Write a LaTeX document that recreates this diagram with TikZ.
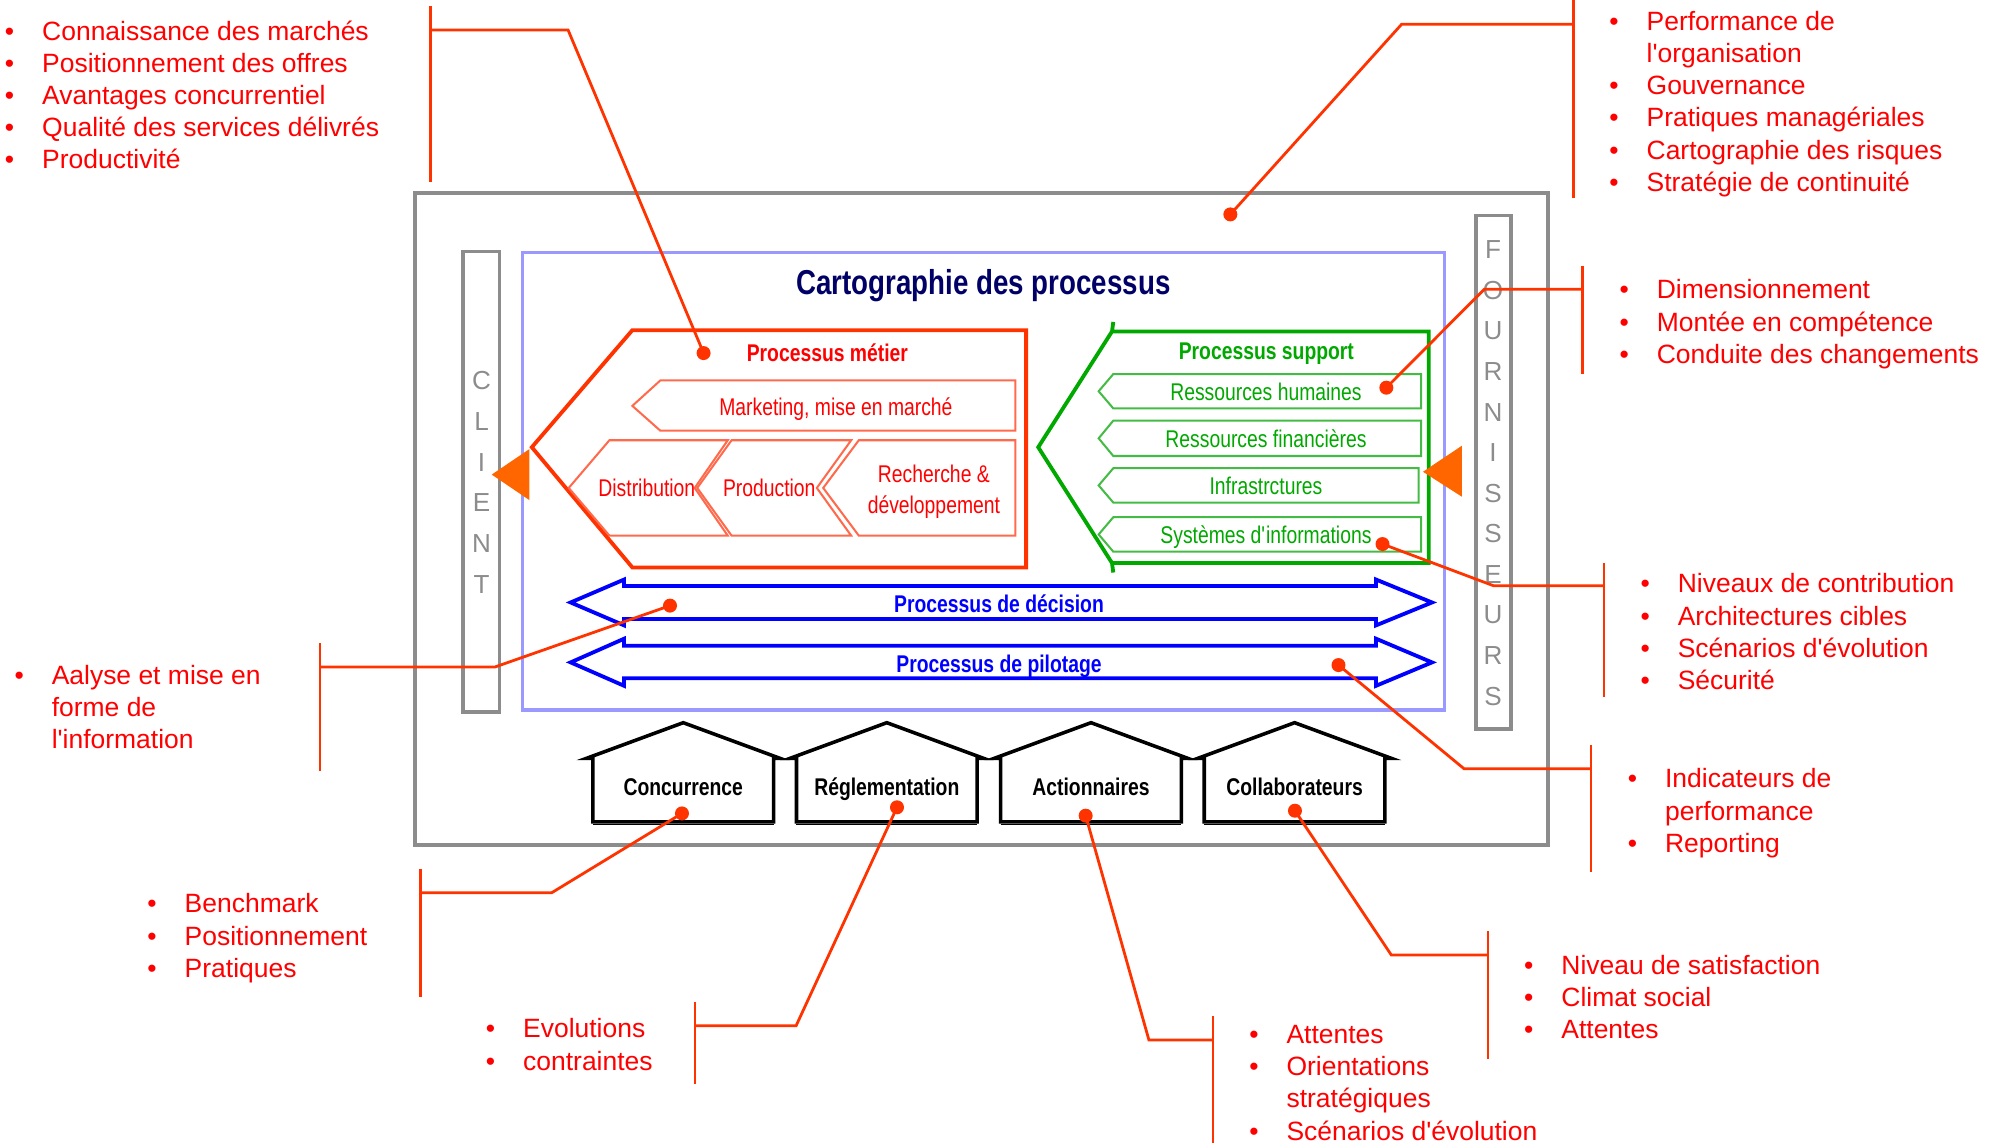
\documentclass[tikz,border=0pt]{standalone}
\usepackage{fontspec}
\setmainfont{Liberation Sans}
\newfontfamily\narrowfont[FakeStretch=0.8]{Liberation Sans}
\definecolor{annred}{HTML}{FF0000}
\definecolor{conred}{HTML}{FF3300}
\definecolor{metred}{HTML}{FF3300}
\definecolor{metin}{HTML}{FF6A4D}
\definecolor{grmain}{HTML}{00A800}
\definecolor{grin}{HTML}{44BB44}
\definecolor{bluem}{HTML}{0000FF}
\definecolor{navy}{HTML}{000066}
\definecolor{oratri}{HTML}{FF6600}
\definecolor{grayc}{HTML}{8C8C8C}
\definecolor{lblue}{HTML}{9999FF}
\newcommand\apos{\textquotesingle}
\begin{document}
\begin{tikzpicture}[x=1pt,y=-1pt,
  ann/.style={font=\fontsize{20.8}{25}\selectfont,text=annred,inner sep=0pt,anchor=base west},
  bl/.style={ann,execute at begin node={\llap{\textbullet\hspace{22pt}}}},
  conn/.style={draw=conred,line width=2.2pt},
  dotn/.style={circle,fill=conred,inner sep=0pt,minimum size=11pt},
  boxg/.style={draw=grayc,line width=3pt,inner sep=0pt,outer sep=0pt},
  letter/.style={font=\fontsize{20.5}{22}\selectfont,text=grayc,inner sep=0pt,text height=14.6pt,text depth=0pt},
  lbl/.style={font=\narrowfont\fontsize{19}{22}\selectfont,inner sep=0pt,text height=13.6pt,text depth=0pt},
  lblb/.style={lbl,font=\narrowfont\bfseries\fontsize{19}{22}\selectfont},
  metshape/.style={draw=metred,line width=3pt,line join=miter},
  metinner/.style={draw=metin,line width=1.6pt},
  grshape/.style={draw=grmain,line width=3pt},
  grinner/.style={draw=grin,line width=1.6pt},
  bluearrow/.style={draw=bluem,line width=3pt},
  house/.style={draw=black,line width=2.8pt,line join=miter},
  tri/.style={fill=oratri}
]
\useasboundingbox (0,0) rectangle (1568,898);

% ---------- frames ----------
\node[boxg,minimum width=890.6pt,minimum height=512.5pt] (frame) at (771.2,407.8) {};
\node[boxg,minimum width=28.5pt,minimum height=362pt] (client) at (378.3,378.6) {};
\node[boxg,minimum width=27.6pt,minimum height=403.7pt] (fourn) at (1173.8,371.2) {};
\node[draw=lblue,line width=2.5pt,inner sep=0pt,minimum width=724.4pt,minimum height=359.4pt] (procbox) at (772.8,378.3) {};

\foreach \l [count=\i] in {C,L,I,E,N,T}
  \node[letter] (cl\i) at (378.5,{299+(\i-1)*32}) {\l};
\foreach \l [count=\i] in {F,O,U,R,N,I,S,S,E,U,R,S}
  \node[letter] (fo\i) at (1173.5,{196+(\i-1)*31.9}) {\l};

\node[font=\narrowfont\bfseries\fontsize{27.2}{30}\selectfont,text=navy,inner sep=0pt,text height=19.5pt,text depth=0pt] (title) at (773,222) {Cartographie des processus};

% ---------- processus metier ----------
\draw[metshape] (497,259.5) -- (806.5,259.5) -- (806.5,446) -- (497,446) -- (418,351.5) -- cycle;
\node[lblb,text=annred] (pmetier) at (650.3,277.7) {Processus métier};
\draw[metinner] (519,299) -- (798,299) -- (798,338.5) -- (519,338.5) -- (497,319) -- cycle;
\node[lbl,text=annred] (mkt) at (657,320) {Marketing, mise en marché};
\draw[metinner] (479,346) -- (572,346) -- (546,383.5) -- (572,421) -- (479,421) -- (447,383.5) -- cycle;
\draw[metinner] (575,346) -- (669,346) -- (642,383.5) -- (669,421) -- (575,421) -- (548,383.5) -- cycle;
\draw[metinner] (675,346) -- (798,346) -- (798,421) -- (675,421) -- (647,383.5) -- cycle;
\node[lbl,text=annred] (distr) at (508.4,383.8) {Distribution};
\node[lbl,text=annred] (prod) at (604.6,383.8) {Production};
\node[lbl,text=annred] (rech1) at (734,372.5) {Recherche \&};
\node[lbl,text=annred] (rech2) at (734,396.6) {développement};

% ---------- processus support ----------
\draw[grshape] (875,253) -- (874,260.5) -- (1123,260.5) -- (1123,442.5) -- (874,442.5) -- (875,450) (874,442.5) -- (816,351.5) -- (874,260.5);
\node[lblb,text=grmain] (psupport) at (995.3,275.6) {Processus support};
\foreach \t/\b/\r/\name [count=\i] in {294/321/1117/Ressources humaines,330.6/358.4/1117/Ressources financières,368/395/1115/Infrastrctures,406.5/433.6/1117/Systèmes d\apos informations}{
  \draw[grinner] (875,\t) -- (\r,\t) -- (\r,\b) -- (875,\b) -- (863.5,{(\t+\b)/2}) -- cycle;
  \node[lbl,text=grmain] (sup\i) at (995,{(\t+\b)/2+0.5}) {\name};
}

% ---------- blue arrows ----------
\draw[bluearrow] (448.5,473.5) -- (490.5,455.5) -- (490.5,460.5) -- (1081.5,460.5) -- (1081.5,455.5) -- (1125.5,473.5) -- (1081.5,491.5) -- (1081.5,486.5) -- (490.5,486.5) -- (490.5,491.5) -- cycle;
\draw[bluearrow] (448.5,520.6) -- (490.5,502) -- (490.5,507.5) -- (1081.5,507.5) -- (1081.5,502) -- (1125.5,520.6) -- (1081.5,539) -- (1081.5,533) -- (490.5,533) -- (490.5,539) -- cycle;
\node[lblb,text=bluem] (pdec) at (785.2,474.7) {Processus de décision};
\node[lblb,text=bluem] (ppil) at (785.2,521.9) {Processus de pilotage};

% ---------- triangles ----------
\fill[tri] (386.5,373) -- (416,353) -- (416,393) -- cycle;
\fill[tri] (1118.4,370.8) -- (1149,350.3) -- (1149,390.4) -- cycle;

% ---------- houses ----------
\foreach \c/\name [count=\i] in {537/Concurrence,697/Réglementation,857.5/Actionnaires,1017.5/Collaborateurs}{
  \draw[house] ({\c-71},646) -- ({\c-71},596) -- ({\c-76},596) -- (\c,568) -- ({\c+76},596) -- ({\c+71},596) -- ({\c+71},646) -- cycle;
  \draw[black,line width=1.5pt] ({\c-71},648) -- ({\c+71},648);
  \node[lblb,text=black] (house\i) at (\c,618.3) {\name};
}

% ---------- annotation texts ----------
\node[bl] (a1) at (33,31.6) {Connaissance des marchés};
\node[bl] (a2) at (33,56.9) {Positionnement des offres};
\node[bl] (a3) at (33,82.2) {Avantages concurrentiel};
\node[bl] (a4) at (33,107.5) {Qualité des services délivrés};
\node[bl] (a5) at (33,132.8) {Productivité};

\node[bl] (b1) at (1294,23.8) {Performance de};
\node[ann] (b2) at (1294,49.1) {l\apos organisation};
\node[bl] (b3) at (1294,74.4) {Gouvernance};
\node[bl] (b4) at (1294,99.7) {Pratiques managériales};
\node[bl] (b5) at (1294,125.0) {Cartographie des risques};
\node[bl] (b6) at (1294,150.3) {Stratégie de continuité};

\node[bl] (c1) at (1302,234.9) {Dimensionnement};
\node[bl] (c2) at (1302,260.2) {Montée en compétence};
\node[bl] (c3) at (1302,285.5) {Conduite des changements};

\node[bl] (d1) at (1318.5,466) {Niveaux de contribution};
\node[bl] (d2) at (1318.5,491.3) {Architectures cibles};
\node[bl] (d3) at (1318.5,516.6) {Scénarios d\apos évolution};
\node[bl] (d4) at (1318.5,541.9) {Sécurité};

\node[bl] (e1) at (1308.5,619.2) {Indicateurs de};
\node[ann] (e2) at (1308.5,644.5) {performance};
\node[bl] (e3) at (1308.5,669.8) {Reporting};

\node[bl] (f1) at (40.5,538) {Aalyse et mise en};
\node[ann] (f2) at (40.5,563.3) {forme de};
\node[ann] (f3) at (40.5,588.6) {l\apos information};

\node[bl] (g1) at (145,717.5) {Benchmark};
\node[bl] (g2) at (145,742.8) {Positionnement};
\node[bl] (g3) at (145,768.1) {Pratiques};

\node[bl] (h1) at (411,815.7) {Evolutions};
\node[bl] (h2) at (411,841) {contraintes};

\node[bl] (i1) at (1011,820.2) {Attentes};
\node[bl] (i2) at (1011,845.5) {Orientations};
\node[ann] (i3) at (1011,870.8) {stratégiques};
\node[bl] (i4) at (1011,896.1) {Scénarios d\apos évolution};

\node[bl] (j1) at (1227,766) {Niveau de satisfaction};
\node[bl] (j2) at (1227,791.3) {Climat social};
\node[bl] (j3) at (1227,816.6) {Attentes};

% ---------- dots ----------
\node[dotn] (dMet) at (553,277.5) {};
\node[dotn] (dPerf) at (967,168.5) {};
\node[dotn] (dRH) at (1089.6,304.7) {};
\node[dotn] (dSI) at (1086.6,427.6) {};
\node[dotn] (dPil) at (1052,522.7) {};
\node[dotn] (dDec) at (526.6,476) {};
\node[dotn] (dConc) at (536,639.3) {};
\node[dotn] (dRegl) at (705,634.5) {};
\node[dotn] (dAct) at (853.3,641.1) {};
\node[dotn] (dColl) at (1017.8,637.2) {};

% ---------- bracket coordinates ----------
\coordinate (A1) at (338.5,4.7);   \coordinate (A2) at (338.5,142.8);
\coordinate (Ah) at (338.5,23.6);  \coordinate (Ae) at (446.5,23.6);
\coordinate (B1) at (1236.4,0);    \coordinate (B2) at (1236.4,155.4);
\coordinate (Bh) at (1236.4,19.1); \coordinate (Be) at (1101.6,19.1);
\coordinate (C1) at (1244,208.8);  \coordinate (C2) at (1244,294);
\coordinate (Ch) at (1244,227.3);  \coordinate (Ce) at (1166.6,227.3);
\coordinate (D1) at (1260.7,442.3); \coordinate (D2) at (1260.7,547.6);
\coordinate (Dh) at (1260.7,460.3); \coordinate (De) at (1173.7,460.3);
\coordinate (E1) at (1250.4,585.5); \coordinate (E2) at (1250.4,685);
\coordinate (Eh) at (1250.4,604.2); \coordinate (Ee) at (1150.7,604.2);
\coordinate (F1) at (251.5,505.6); \coordinate (F2) at (251.5,605.7);
\coordinate (Fh) at (251.5,524.3); \coordinate (Fe) at (388.8,524.3);
\coordinate (G1) at (330.5,683.3); \coordinate (G2) at (330.5,783.4);
\coordinate (Gh) at (330.5,701.6); \coordinate (Ge) at (433.7,701.6);
\coordinate (H1) at (546.3,787.8); \coordinate (H2) at (546.3,852.3);
\coordinate (Hh) at (546.3,806.2); \coordinate (He) at (625.7,806.2);
\coordinate (I1) at (953.4,798.5); \coordinate (I2) at (953.4,898);
\coordinate (Ih) at (953.4,817.4); \coordinate (Ie) at (903,817.4);
\coordinate (J1) at (1169.5,732);  \coordinate (J2) at (1169.5,832);
\coordinate (Jh) at (1169.5,750.6); \coordinate (Je) at (1093.5,750.6);

% ---------- connectors ----------
\draw[conn] (A1) -- (A2); \draw[conn,line join=miter] (Ah) -- (Ae) -- (dMet.center);
\draw[conn] (B1) -- (B2); \draw[conn] (Bh) -- (Be) -- (dPerf.center);
\draw[conn] (C1) -- (C2); \draw[conn] (Ch) -- (Ce) -- (dRH.center);
\draw[conn] (D1) -- (D2); \draw[conn] (Dh) -- (De) -- (dSI.center);
\draw[conn] (E1) -- (E2); \draw[conn] (Eh) -- (Ee) -- (dPil.center);
\draw[conn] (F1) -- (F2); \draw[conn] (Fh) -- (Fe) -- (dDec.center);
\draw[conn] (G1) -- (G2); \draw[conn] (Gh) -- (Ge) -- (dConc.center);
\draw[conn] (H1) -- (H2); \draw[conn] (Hh) -- (He) -- (dRegl.center);
\draw[conn] (I1) -- (I2); \draw[conn] (Ih) -- (Ie) -- (dAct.center);
\draw[conn] (J1) -- (J2); \draw[conn] (Jh) -- (Je) -- (dColl.center);
\end{tikzpicture}
\end{document}
